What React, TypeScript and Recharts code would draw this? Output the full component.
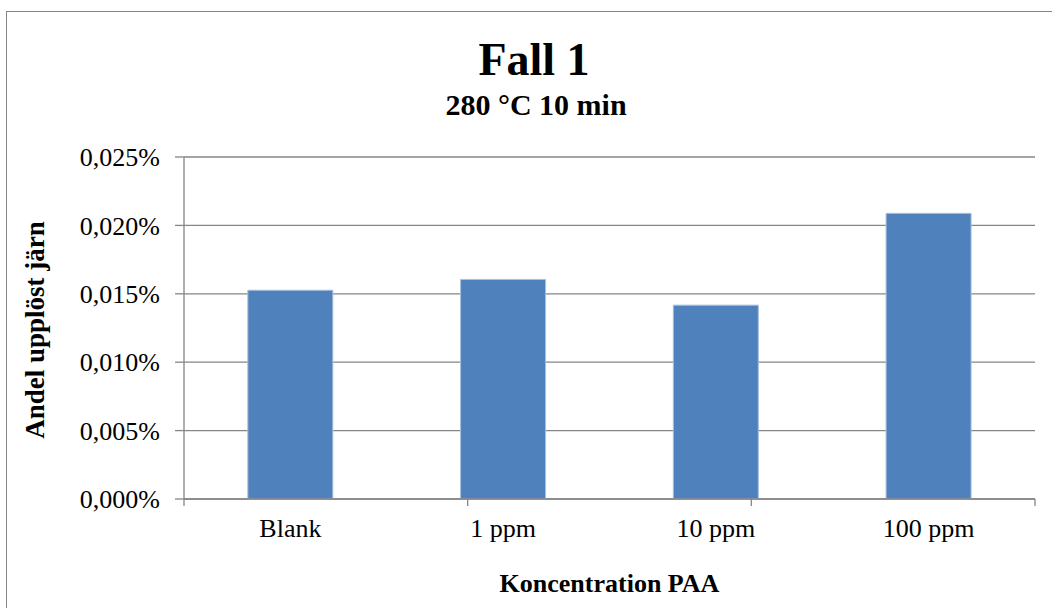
import React from 'react';
import { BarChart, Bar, XAxis, YAxis, CartesianGrid } from 'recharts';

// värden i procent (andel upplöst järn)
const categories = ['Blank', '1 ppm', '10 ppm', '100 ppm'];
const andel = [0.01526, 0.01605, 0.01417, 0.02088];
const yTicks = [0, 0.005, 0.01, 0.015, 0.02, 0.025];
const edgeTicks = [0, 1, 2, 3, 4];

const data = categories.map((c, i) => ({ name: c, andel: andel[i] }));

const FONT = '"Liberation Serif", "Times New Roman", serif';
const GRAY = '#868686';

const fmtPct = (v: number) => v.toFixed(3).replace('.', ',') + '%';

export default function App() {
  return (
    <div style={{ position: 'absolute', left: 0, top: 0, width: 1052, height: 608, overflow: 'hidden', background: '#fff', fontFamily: FONT }}>
      {/* ram runt diagrammet */}
      <div style={{ position: 'absolute', left: 6, top: 11, width: 1100, height: 700, border: `1px solid ${GRAY}` }} />
      <div style={{ position: 'absolute', left: 0, top: 0 }}>
        <BarChart
          width={1052}
          height={608}
          data={data}
          margin={{ top: 157, right: 17, left: 84, bottom: 49 }}
          barCategoryGap="30%"
        >
          <CartesianGrid horizontal vertical={false} stroke={GRAY} strokeWidth={1.3} />
          {/* axel med streck mellan kategorierna */}
          <XAxis
            xAxisId={0}
            type="number"
            domain={[0, 4]}
            ticks={edgeTicks}
            tickFormatter={() => ''}
            tickSize={7}
            height={1}
            stroke={GRAY}
            strokeWidth={1.3}
          />
          <XAxis
            xAxisId="cat"
            dataKey="name"
            height={59}
            axisLine={false}
            tickLine={false}
            tickMargin={13}
            tick={{ fontSize: 26, fill: '#000', fontFamily: FONT }}
          />
          <YAxis
            width={100}
            domain={[0, 0.025]}
            ticks={yTicks}
            tickFormatter={fmtPct}
            tickSize={9}
            tickMargin={15}
            stroke={GRAY}
            strokeWidth={1.3}
            tick={{ fontSize: 26, fill: '#000', fontFamily: FONT }}
          />
          <Bar xAxisId="cat" dataKey="andel" fill="#4F81BD" stroke="#A9C0DE" strokeWidth={1} isAnimationActive={false} />
        </BarChart>
      </div>
      <svg width={1052} height={608} style={{ position: 'absolute', left: 0, top: 0, pointerEvents: 'none' }}>
        <text x={534} y={75} textAnchor="middle" fontSize={46} fontWeight="bold" fontFamily={FONT}>Fall 1</text>
        <text x={536} y={115} textAnchor="middle" fontSize={30} fontWeight="bold" fontFamily={FONT}>280 °C 10 min</text>
        <text x={609.5} y={592} textAnchor="middle" fontSize={26} fontWeight="bold" fontFamily={FONT}>Koncentration PAA</text>
        <text transform="translate(44,330) rotate(-90)" textAnchor="middle" fontSize={27} fontWeight="bold" fontFamily={FONT}>Andel upplöst järn</text>
      </svg>
    </div>
  );
}
